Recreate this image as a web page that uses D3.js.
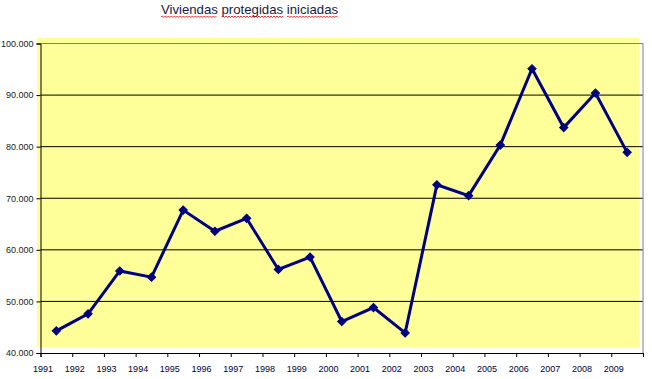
<!DOCTYPE html>
<html><head><meta charset="utf-8">
<script src="https://cdn.jsdelivr.net/npm/d3@7/dist/d3.min.js"></script>
<style>
html,body{margin:0;padding:0;background:#fff;}
svg{display:block;}
text{font-family:"Liberation Sans",Arial,sans-serif;}
</style></head>
<body>
<svg id="c" width="652" height="379"></svg>
<script>
const title = "Viviendas protegidas iniciadas";
const years = ["1991","1992","1993","1994","1995","1996","1997","1998","1999","2000",
               "2001","2002","2003","2004","2005","2006","2007","2008","2009"];
const values = [44300,47600,55900,54700,67700,63600,66100,56200,58600,46100,
                48800,43900,72600,70500,80300,95100,83700,90400,78900];
const yTicks = [40000,50000,60000,70000,80000,90000,100000];

const svg = d3.select("#c");
const x = d3.scaleLinear().domain([0, years.length]).range([40.5, 643]);
const y = d3.scaleLinear().domain([40000, 100000]).range([353, 43.5]);

const loc = d3.formatLocale({decimal:",", thousands:".", grouping:[3], currency:["",""]});
const fmt = loc.format(",d");

// yellow background
svg.append("rect").attr("x",37).attr("y",38).attr("width",602).attr("height",309).attr("fill","#FFFF99");

// gridlines
svg.append("g").selectAll("line").data(yTicks.slice(1)).join("line")
  .attr("x1", x(0)).attr("x2", x(years.length))
  .attr("y1", d=>y(d)).attr("y2", d=>y(d))
  .attr("stroke", d => d===100000 ? "#808080" : "#000").attr("stroke-width",1);
// right border
svg.append("line").attr("x1",x(years.length)).attr("x2",x(years.length))
  .attr("y1",y(100000)).attr("y2",y(40000)).attr("stroke","#808080");

// axes
const yAxis = d3.axisLeft(y).tickValues(yTicks).tickFormat(fmt).tickSize(4).tickPadding(3);
const gy = svg.append("g").attr("transform",`translate(${x(0)},0)`).call(yAxis);
gy.select(".domain").attr("stroke","#000");
gy.selectAll(".tick line").attr("stroke","#000");
gy.selectAll("text").attr("font-size","9px").attr("fill","#222").style("font-family","'Liberation Sans',Arial,sans-serif");

const xAxis = d3.axisBottom(x).tickValues(d3.range(years.length+1))
  .tickFormat(i => years[i] || "").tickSize(4).tickPadding(9);
const gx = svg.append("g").attr("transform",`translate(0,${y(40000)})`).call(xAxis);
gx.select(".domain").attr("stroke","#000");
gx.selectAll(".tick line").attr("stroke","#000");
gx.selectAll("text").attr("font-size","9px").attr("fill","#000040").attr("dx","2")
  .style("font-family","'Liberation Sans',Arial,sans-serif");

// line
const line = d3.line().x((d,i)=>x(i+0.5)).y(d=>y(d));
svg.append("path").datum(values).attr("d",line).attr("fill","none")
  .attr("stroke","#000080").attr("stroke-width",3).attr("stroke-linejoin","miter");

// markers
const diamond = d3.symbol().type(d3.symbolSquare).size(34);
svg.append("g").selectAll("path").data(values).join("path")
  .attr("d", diamond)
  .attr("transform",(d,i)=>`translate(${x(i+0.5)},${y(d)}) rotate(45)`)
  .attr("fill","#000080").attr("stroke","#000080").attr("stroke-width",1);

// title
const t = svg.append("text").attr("x",249.5).attr("y",14).attr("text-anchor","middle")
  .attr("font-size","13.2px").attr("fill","#1a1a40").text(title);
// spell-check style wavy underline
const node = t.node();
const bb = node.getBBox();
let idx = 0;
title.split(" ").forEach(w => {
  const start = node.getSubStringLength(0, idx);
  const len = node.getSubStringLength(idx, w.length);
  const x0 = bb.x + start, x1 = x0 + len;
  let p = `M${x0},17`;
  let k = 0;
  for (let xx = x0 + 1.5; xx <= x1; xx += 1.5) { p += `L${xx},${k%2===0?16:17.5}`; k++; }
  svg.append("path").attr("d",p).attr("fill","none").attr("stroke","#e00000").attr("stroke-width",0.8);
  idx += w.length + 1;
});
</script>
</body></html>
